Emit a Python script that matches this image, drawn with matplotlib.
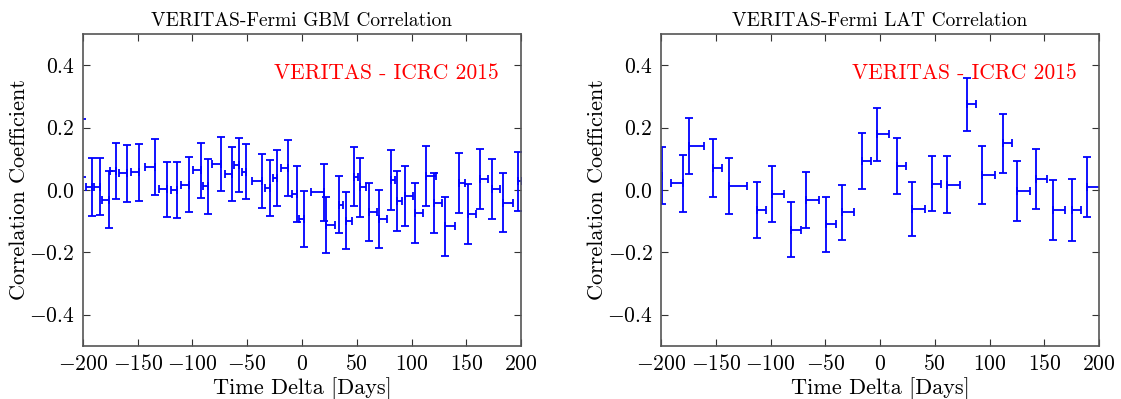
import matplotlib
matplotlib.use('Agg')
import matplotlib.pyplot as plt
import numpy as np

plt.rcParams['font.family'] = 'serif'
plt.rcParams['font.serif'] = ['cmr10', 'DejaVu Serif']
plt.rcParams['mathtext.fontset'] = 'cm'
plt.rcParams['axes.formatter.use_mathtext'] = True

# GBM panel: time lag (days), correlation, symmetric y error, one-sided x widths
gbm_t = [-201, -191.5, -184.2, -176.5, -169.9, -160.1, -148.9, -134.5, -123.0, -114.4,
         -103.2, -92.3, -86.1, -74.3, -63.6, -57.3, -51.4, -36.8, -29.5, -23.1,
         -12.5, -4.8, 2.1, 20.1, 21.6, 33.8, 39.9, 47.8, 53.0, 61.2,
         70.6, 81.6, 86.5, 93.8, 103.2, 113.2, 120.3, 130.6, 143.7, 151.9,
         162.6, 173.5, 183.9, 197.0]
gbm_r = [0.136, 0.009, 0.011, -0.031, 0.060, 0.053, 0.056, 0.074, 0.002, 0.000,
         0.017, 0.063, 0.012, 0.083, 0.052, 0.079, 0.059, 0.028, 0.006, 0.039,
         0.070, -0.014, -0.093, -0.007, -0.112, -0.047, -0.098, 0.043, 0.008, -0.071,
         -0.093, 0.032, -0.035, -0.019, -0.074, 0.044, -0.042, -0.117, 0.023, -0.076,
         0.034, 0.002, -0.041, 0.028]
gbm_err = [0.093, 0.094, 0.092, 0.091, 0.090, 0.090, 0.090, 0.089, 0.089, 0.090,
           0.088, 0.089, 0.088, 0.087, 0.086, 0.087, 0.088, 0.087, 0.089, 0.089,
           0.089, 0.090, 0.090, 0.091, 0.091, 0.091, 0.091, 0.095, 0.095, 0.094,
           0.093, 0.095, 0.095, 0.095, 0.096, 0.096, 0.096, 0.096, 0.096, 0.096,
           0.096, 0.096, 0.095, 0.095]
gbm_xlo = [8, 5.5, 5.8, 6, 5.8, 7.3, 7.6, 9, 7.6, 5.5,
           7, 7, 4, 8.2, 7, 4.6, 3.7, 9.1, 4.3, 3.7,
           7, 4.6, 4.6, 12.2] + [0] * 20
gbm_xhi = [0] * 24 + [8.5, 4, 5.5, 3, 5.2, 7, 7.3, 3.3, 5.2, 7.3,
                      7.6, 9, 7.9, 9.1, 5.2, 7, 7.6, 7.3, 8.5, 3.7]

# LAT panel
lat_t = [-198.8, -179.6, -174.7, -152.7, -138.0, -112.8, -99.0, -81.0, -67.9, -49.0,
         -35.0, -16.7, -2.9, 15.4, 29.1, 47.4, 61.5, 79.8, 92.9, 111.8,
         124.7, 142.6, 157.6, 175.6, 189.3]
lat_r = [0.046, 0.021, 0.140, 0.070, 0.013, -0.065, -0.013, -0.127, -0.032, -0.110,
         -0.071, 0.093, 0.178, 0.077, -0.061, 0.020, 0.017, 0.274, 0.049, 0.149,
         -0.004, 0.035, -0.063, -0.064, 0.009]
lat_err = [0.092, 0.092, 0.090, 0.093, 0.089, 0.090, 0.089, 0.088, 0.090, 0.089,
           0.088, 0.089, 0.086, 0.089, 0.088, 0.089, 0.091, 0.086, 0.093, 0.094,
           0.096, 0.096, 0.096, 0.099, 0.097]
lat_xlo = [3, 11.6] + [0] * 23
lat_xhi = [0, 0, 14.3, 8.2, 16.4, 8.5, 11.6, 8.8, 12.5, 8.5,
           11.6, 8.5, 11, 8.2, 11.6, 8, 11.3, 8.2, 12.2, 8.2,
           12.2, 9.5, 11.3, 8.2, 12]

panels = [
    ('VERITAS-Fermi GBM Correlation', gbm_t, gbm_r, gbm_err, gbm_xlo, gbm_xhi),
    ('VERITAS-Fermi LAT Correlation', lat_t, lat_r, lat_err, lat_xlo, lat_xhi),
]

fig = plt.figure(figsize=(11.21, 3.99), dpi=100)
lefts = [0.074, 0.5897]
for i, (title, t, r, e, xlo, xhi) in enumerate(panels):
    ax = fig.add_axes([lefts[i], 0.133, 0.3908, 0.7818])
    ax.errorbar(t, r, yerr=e, xerr=[xlo, xhi], fmt='none', ecolor='b',
                elinewidth=1.3, capsize=3, capthick=1.3)
    ax.set_xlim(-200, 200)
    ax.set_ylim(-0.5, 0.5)
    ax.set_xticks(np.arange(-200, 201, 50))
    ax.set_yticks([-0.4, -0.2, 0.0, 0.2, 0.4])
    ax.set_yticklabels(['$-0.4$', '$-0.2$', '$0.0$', '$0.2$', '$0.4$'])
    ax.tick_params(direction='in', top=True, right=True, length=5, labelsize=15.5,
                   color='#333333', pad=6)
    for s in ax.spines.values():
        s.set_color('#555555')
        s.set_linewidth(1.2)
    ax.set_title(title, fontsize=14, pad=6)
    ax.set_xlabel('Time Delta [Days]', fontsize=16, labelpad=2)
    ax.set_ylabel('Correlation Coefficient', fontsize=16, labelpad=0)
    ax.text(0.95, 0.875, 'VERITAS - ICRC 2015', color='red', fontsize=15.5,
            ha='right', va='center', transform=ax.transAxes)

fig.savefig('out.png', dpi=100)
